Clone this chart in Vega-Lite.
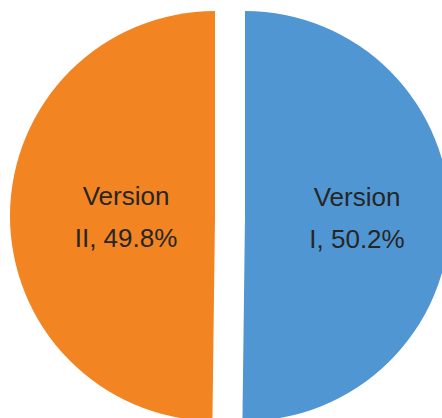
{
  "$schema": "https://vega.github.io/schema/vega-lite/v6.json",
  "width": 442,
  "height": 418,
  "autosize": {"type": "fit", "contains": "padding"},
  "padding": 0,
  "background": "white",
  "config": {"view": {"stroke": null}},
  "data": {
    "values": [
      {"version": "Version I", "share": 50.2, "label": "Version\nI, 50.2%"},
      {"version": "Version II", "share": 49.8, "label": "Version\nII, 49.8%"}
    ]
  },
  "layer": [
    {
      "transform": [
        {"stack": "share", "groupby": [], "as": ["t0", "t1"]},
        {"filter": "datum.version === 'Version I'"}
      ],
      "mark": {"type": "arc", "radius": 205, "xOffset": 32, "yOffset": 10, "fill": "#5096d2"},
      "encoding": {
        "theta": {"field": "t0", "type": "quantitative", "scale": {"domain": [0, 100]}},
        "theta2": {"field": "t1"}
      }
    },
    {
      "transform": [
        {"stack": "share", "groupby": [], "as": ["t0", "t1"]},
        {"filter": "datum.version === 'Version II'"}
      ],
      "mark": {"type": "arc", "radius": 205, "xOffset": 2, "yOffset": 10, "fill": "#f38422"},
      "encoding": {
        "theta": {"field": "t0", "type": "quantitative", "scale": {"domain": [0, 100]}},
        "theta2": {"field": "t1"}
      }
    },
    {
      "mark": {"type": "text", "radius": 114, "xOffset": 30, "yOffset": -9, "font": "Liberation Sans", "fontSize": 26, "lineHeight": 42, "lineBreak": "\n", "align": "center", "baseline": "middle", "color": "#262626"},
      "encoding": {
        "theta": {"field": "share", "type": "quantitative", "stack": true},
        "text": {"condition": {"test": "datum.version === 'Version I'", "field": "label"}, "value": ""}
      }
    },
    {
      "mark": {"type": "text", "radius": 88, "xOffset": 1, "yOffset": -8, "font": "Liberation Sans", "fontSize": 26, "lineHeight": 42, "lineBreak": "\n", "align": "center", "baseline": "middle", "color": "#262626"},
      "encoding": {
        "theta": {"field": "share", "type": "quantitative", "stack": true},
        "text": {"condition": {"test": "datum.version === 'Version II'", "field": "label"}, "value": ""}
      }
    }
  ]
}
